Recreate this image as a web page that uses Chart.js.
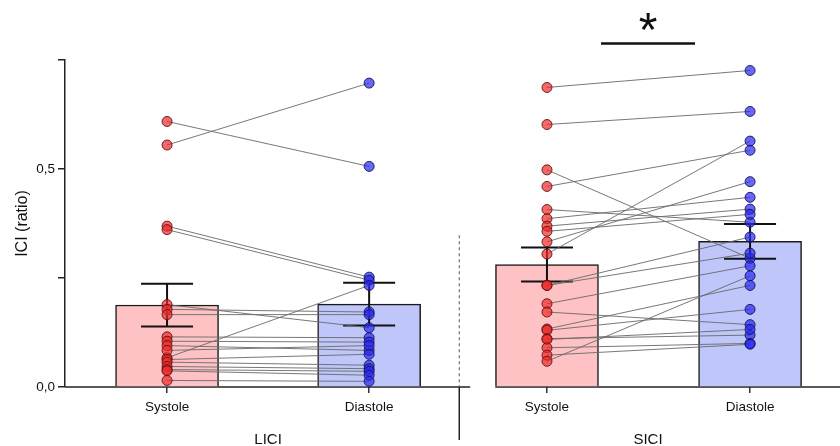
<!DOCTYPE html>
<html>
<head>
<meta charset="utf-8">
<script src="https://cdn.jsdelivr.net/npm/chart.js@4"></script>
<style>
  html, body { margin: 0; padding: 0; background: #fff; }
  #wrap { width: 840px; height: 446px; }
</style>
</head>
<body>
<div id="wrap"><canvas id="iciChart" width="840" height="446"></canvas></div>
<script>
const groups = ['LICI', 'SICI'];
const phases = ['Systole', 'Diastole', 'Systole', 'Diastole'];
const barMeans = [0.188, 0.190, 0.281, 0.334];
const barSem = [0.049, 0.049, 0.039, 0.040];

// paired subjects: systole[i] goes with diastole[i]
const liciSystole = [0.609, 0.555, 0.369, 0.361, 0.189, 0.067, 0.178, 0.166, 0.115, 0.105, 0.095, 0.084, 0.063, 0.057, 0.047, 0.040, 0.037, 0.015];
const liciDiastole = [0.506, 0.697, 0.252, 0.245, 0.136, 0.233, 0.172, 0.166, 0.113, 0.103, 0.084, 0.095, 0.075, 0.050, 0.042, 0.036, 0.027, 0.013];
const siciSystole = [0.687, 0.602, 0.498, 0.460, 0.407, 0.386, 0.369, 0.357, 0.333, 0.305, 0.233, 0.233, 0.191, 0.172, 0.133, 0.130, 0.111, 0.109, 0.090, 0.073, 0.059];
const siciDiastole = [0.726, 0.632, 0.295, 0.543, 0.378, 0.435, 0.408, 0.396, 0.471, 0.564, 0.344, 0.307, 0.278, 0.143, 0.233, 0.178, 0.119, 0.132, 0.100, 0.098, 0.255];

const yTicks = [0, 0.25, 0.5, 0.75];
const yLabelled = [0, 0.5];

// layout (x units on a linear axis)
const catPos = [1, 2, 2.88, 3.885];
const groupPos = [1.5, 3.38];
const xMin = 0.495, xMax = 4.33;
const sepX = 2.446;
const FONT = '"Liberation Sans", Arial, sans-serif';

const pink = 'rgb(255,194,196)';
const lilac = 'rgb(191,199,250)';

function pairLines(sys, dia, x0, x1) {
    const pts = [];
    sys.forEach((v, i) => {
        pts.push({x: x0, y: v}, {x: x1, y: dia[i]}, {x: x1, y: null});
    });
    return pts;
}

function dots(values, x) {
    return values.map(v => ({x: x, y: v}));
}

function noPad(scale) {
    scale.paddingLeft = 0;
    scale.paddingRight = 0;
    scale.paddingTop = 0;
    scale.paddingBottom = 0;
}

const decorations = {
    id: 'decorations',
    beforeDatasetsDraw(chart) {
        const {ctx, chartArea} = chart;
        const xs = chart.scales.x;
        ctx.save();
        ctx.strokeStyle = '#222';
        ctx.lineWidth = 1.5;
        ctx.beginPath();
        ctx.moveTo(chartArea.left, chartArea.bottom);
        ctx.lineTo(xs.getPixelForValue(2.5), chartArea.bottom);
        ctx.moveTo(xs.getPixelForValue(2.624), chartArea.bottom);
        ctx.lineTo(chartArea.right, chartArea.bottom);
        ctx.stroke();
        ctx.restore();
    },
    afterDatasetDraw(chart, args) {
        if (args.index !== 0) return;
        const {ctx} = chart;
        const xs = chart.scales.x, ys = chart.scales.y;
        ctx.save();
        ctx.strokeStyle = '#111';
        ctx.lineWidth = 2;
        barMeans.forEach((m, i) => {
            const x = xs.getPixelForValue(catPos[i]);
            const top = ys.getPixelForValue(m + barSem[i]);
            const bot = ys.getPixelForValue(m - barSem[i]);
            ctx.beginPath();
            ctx.moveTo(x, top); ctx.lineTo(x, bot);
            ctx.moveTo(x - 26, top); ctx.lineTo(x + 26, top);
            ctx.moveTo(x - 26, bot); ctx.lineTo(x + 26, bot);
            ctx.stroke();
        });
        ctx.restore();
    },
    afterDraw(chart) {
        const {ctx, chartArea} = chart;
        const xs = chart.scales.x, ys = chart.scales.y;
        const sx = xs.getPixelForValue(sepX);
        ctx.save();
        // group separator
        ctx.strokeStyle = '#555';
        ctx.lineWidth = 1;
        ctx.setLineDash([3, 3]);
        ctx.beginPath();
        ctx.moveTo(sx, ys.getPixelForValue(0.348));
        ctx.lineTo(sx, chartArea.bottom);
        ctx.stroke();
        ctx.setLineDash([]);
        ctx.strokeStyle = '#222';
        ctx.lineWidth = 1.5;
        ctx.beginPath();
        ctx.moveTo(sx, chartArea.bottom);
        ctx.lineTo(sx, chartArea.bottom + 53);
        ctx.stroke();
        // significance
        const mid = xs.getPixelForValue(groupPos[1]);
        const yb = ys.getPixelForValue(0.788);
        ctx.lineWidth = 2.5;
        ctx.strokeStyle = '#111';
        ctx.beginPath();
        ctx.moveTo(mid - 47, yb);
        ctx.lineTo(mid + 47, yb);
        ctx.stroke();
        ctx.fillStyle = '#111';
        ctx.font = '48px ' + FONT;
        ctx.textAlign = 'center';
        ctx.textBaseline = 'alphabetic';
        ctx.fillText('*', mid, yb + 3);
        ctx.restore();
    }
};

const lineStyle = {
    type: 'line',
    borderColor: 'rgba(105,105,105,0.9)',
    borderWidth: 1,
    pointRadius: 0,
    spanGaps: false,
    fill: false,
    order: 1
};

const dotStyle = {
    type: 'scatter',
    pointRadius: 5,
    pointBorderWidth: 1,
    order: 0
};

new Chart(document.getElementById('iciChart'), {
    type: 'bar',
    data: {
        datasets: [{
            data: barMeans.map((m, i) => ({x: catPos[i], y: m})),
            backgroundColor: [pink, lilac, pink, lilac],
            borderColor: '#1a1a1a',
            borderWidth: 1.5,
            barThickness: 103,
            order: 2
        },
        Object.assign({data: pairLines(liciSystole, liciDiastole, catPos[0], catPos[1])}, lineStyle),
        Object.assign({data: pairLines(siciSystole, siciDiastole, catPos[2], catPos[3])}, lineStyle),
        Object.assign({data: dots(liciSystole, catPos[0]), backgroundColor: 'rgba(240,40,40,0.7)', borderColor: 'rgba(90,20,20,0.9)'}, dotStyle),
        Object.assign({data: dots(siciSystole, catPos[2]), backgroundColor: 'rgba(240,40,40,0.7)', borderColor: 'rgba(90,20,20,0.9)'}, dotStyle),
        Object.assign({data: dots(liciDiastole, catPos[1]), backgroundColor: 'rgba(40,40,240,0.7)', borderColor: 'rgba(20,20,90,0.9)'}, dotStyle),
        Object.assign({data: dots(siciDiastole, catPos[3]), backgroundColor: 'rgba(40,40,240,0.7)', borderColor: 'rgba(20,20,90,0.9)'}, dotStyle)
        ]
    },
    options: {
        responsive: false,
        animation: false,
        layout: { autoPadding: false, padding: {top: 60, left: 0, right: 0, bottom: 0} },
        plugins: { legend: {display: false}, tooltip: {enabled: false} },
        scales: {
            x: {
                type: 'linear',
                min: xMin, max: xMax,
                offset: false,
                weight: 0,
                afterFit(scale) { scale.height = 30; noPad(scale); },
                afterBuildTicks(scale) { scale.ticks = catPos.map(v => ({value: v})); },
                ticks: {
                    autoSkip: false, maxRotation: 0, padding: 6,
                    color: '#111', font: {family: FONT, size: 13.5},
                    callback: (v, i) => phases[i]
                },
                grid: { drawOnChartArea: false, drawTicks: true, tickLength: 6, color: '#333', lineWidth: 1.5, offset: false },
                border: { display: false }
            },
            x2: {
                type: 'linear',
                position: 'bottom',
                min: xMin, max: xMax,
                offset: false,
                weight: 1,
                afterFit(scale) { scale.height = 29; noPad(scale); },
                afterBuildTicks(scale) { scale.ticks = groupPos.map(v => ({value: v})); },
                ticks: {
                    autoSkip: false, maxRotation: 0, padding: 14,
                    color: '#111', font: {family: FONT, size: 15},
                    callback: (v, i) => groups[i]
                },
                grid: { display: false, drawTicks: false },
                border: { display: false }
            },
            y: {
                min: 0, max: 0.75,
                afterFit(scale) { scale.width = 65; noPad(scale); },
                afterBuildTicks(scale) { scale.ticks = yTicks.map(v => ({value: v})); },
                ticks: {
                    padding: 3,
                    color: '#111', font: {family: FONT, size: 13.5},
                    callback: v => yLabelled.includes(v) ? v.toFixed(1).replace('.', ',') : ''
                },
                grid: { drawOnChartArea: false, drawTicks: true, tickLength: 7, color: '#222', lineWidth: 1.5 },
                border: { display: true, color: '#222', width: 1.5 },
                title: {
                    display: true, text: 'ICI (ratio)', color: '#111',
                    font: {family: FONT, size: 16},
                    padding: {top: 13, bottom: 0}
                }
            }
        }
    },
    plugins: [decorations]
});
</script>
</body>
</html>
